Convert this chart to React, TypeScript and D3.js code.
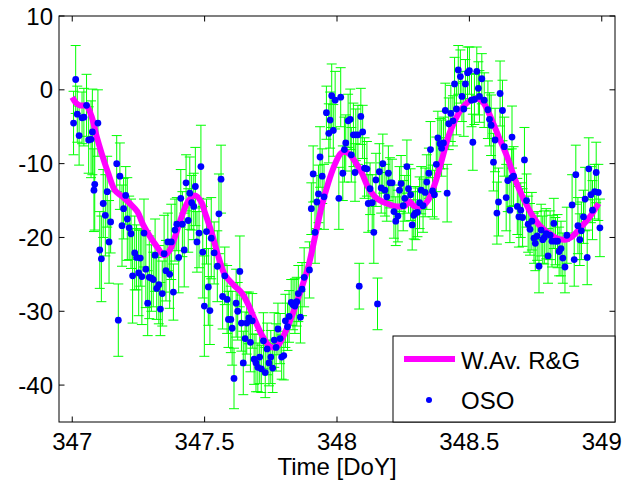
import React from "react";
import * as d3 from "d3";

// OSO observations: [time (DoY), value, error]
const osoPoints: [number, number, number][] = [
  [347.005, -4.5, 4.3], [347.013, 1.4, 4.6], [347.019, -3.3, 3.8], [347.026, -6.2, 4.0],
  [347.037, -3.8, 3.5], [347.044, -3.7, 3.9], [347.054, -2.1, 4.2], [347.062, -6.8, 4.5],
  [347.071, -6.7, 5.2], [347.076, -5.7, 5.8], [347.082, -13.6, 5.6], [347.085, -12.8, 6.2],
  [347.097, -4.5, 4.5], [347.104, -21.7, 5.2], [347.110, -22.9, 5.8], [347.117, -15.4, 4.6],
  [347.125, -17.0, 5.5], [347.132, -13.8, 4.8], [347.139, -20.6, 5.6], [347.145, -17.9, 4.2],
  [347.168, -10.0, 3.8], [347.174, -31.2, 4.9], [347.180, -11.7, 4.5], [347.188, -18.4, 5.5],
  [347.194, -16.1, 4.1], [347.202, -14.3, 3.9], [347.208, -17.5, 5.6], [347.215, -18.7, 4.3],
  [347.222, -19.5, 4.7], [347.228, -25.2, 6.4], [347.236, -22.1, 5.0], [347.243, -22.7, 4.4],
  [347.251, -24.8, 5.8], [347.257, -22.8, 3.8], [347.263, -25.3, 6.5], [347.271, -19.4, 4.6],
  [347.278, -24.3, 5.2], [347.285, -28.9, 4.4], [347.291, -25.4, 5.6], [347.299, -25.5, 4.5],
  [347.306, -25.7, 3.7], [347.313, -22.4, 4.9], [347.319, -26.9, 4.2], [347.327, -26.4, 5.3],
  [347.333, -29.7, 3.6], [347.340, -27.6, 4.4], [347.347, -22.2, 5.2], [347.354, -24.5, 4.1],
  [347.361, -20.6, 3.9], [347.368, -25.0, 4.6], [347.374, -20.6, 5.1], [347.382, -27.4, 3.8],
  [347.388, -19.0, 4.2], [347.395, -18.2, 3.6], [347.402, -22.7, 4.8], [347.410, -14.7, 3.9],
  [347.416, -18.2, 4.4], [347.423, -21.7, 5.0], [347.430, -12.6, 3.8], [347.438, -17.7, 4.3],
  [347.444, -14.0, 4.9], [347.451, -15.3, 3.7], [347.459, -15.8, 4.5], [347.465, -13.1, 5.3],
  [347.471, -20.6, 4.1], [347.479, -19.4, 4.7], [347.486, -10.4, 5.6], [347.493, -22.0, 6.2],
  [347.499, -29.3, 6.8], [347.507, -19.2, 4.4], [347.514, -26.7, 5.2], [347.520, -29.9, 4.6],
  [347.525, -20.1, 5.5], [347.536, -22.1, 4.2], [347.548, -23.9, 4.8], [347.554, -16.8, 5.4],
  [347.562, -12.1, 4.6], [347.568, -28.0, 4.4], [347.576, -25.2, 3.9], [347.585, -28.4, 4.6],
  [347.590, -31.1, 3.8], [347.599, -31.1, 4.5], [347.604, -32.3, 5.0], [347.611, -39.1, 4.1],
  [347.619, -28.9, 4.6], [347.625, -30.0, 3.9], [347.633, -24.6, 4.8], [347.639, -31.6, 3.8],
  [347.646, -37.0, 4.3], [347.653, -33.7, 3.6], [347.659, -31.6, 4.2], [347.667, -30.9, 3.5],
  [347.673, -34.2, 4.0], [347.680, -31.3, 3.7], [347.687, -36.5, 3.4], [347.694, -37.0, 3.9],
  [347.701, -37.6, 3.3], [347.708, -36.2, 3.6], [347.714, -37.8, 3.2], [347.722, -34.0, 3.8],
  [347.729, -38.3, 3.4], [347.736, -35.1, 3.5], [347.743, -37.0, 3.1], [347.750, -36.2, 3.6],
  [347.757, -37.7, 3.3], [347.763, -33.9, 3.7], [347.770, -34.9, 3.2], [347.777, -32.4, 3.5],
  [347.785, -33.7, 3.4], [347.791, -36.2, 3.0], [347.799, -36.0, 3.3], [347.805, -31.3, 3.6],
  [347.813, -32.1, 3.2], [347.819, -30.7, 3.5], [347.827, -28.8, 3.1], [347.834, -29.1, 3.4],
  [347.841, -29.3, 3.7], [347.848, -28.7, 3.3], [347.854, -27.6, 3.8], [347.862, -30.8, 3.5],
  [347.868, -27.0, 3.6], [347.876, -25.4, 4.0], [347.896, -24.4, 3.8], [347.903, -16.1, 3.5],
  [347.910, -11.4, 3.8], [347.917, -19.3, 4.2], [347.924, -15.2, 3.6], [347.930, -14.1, 3.9],
  [347.936, -9.1, 4.1], [347.944, -11.7, 3.7], [347.951, -14.5, 4.4], [347.960, -3.1, 3.6],
  [347.969, -5.9, 4.0], [347.974, -4.1, 3.8], [347.980, -0.8, 4.3], [347.986, -5.5, 3.5],
  [347.993, -1.4, 3.9], [348.007, -14.7, 4.2], [348.014, -1.0, 4.0], [348.022, -11.3, 3.7],
  [348.028, -8.1, 4.4], [348.033, -7.2, 3.8], [348.042, -4.2, 3.6], [348.050, -4.0, 4.1],
  [348.054, -8.8, 3.7], [348.062, -6.1, 4.3], [348.068, -11.2, 3.9], [348.071, -6.1, 3.5],
  [348.079, -6.1, 4.0], [348.084, -26.6, 3.1], [348.090, -3.6, 3.8], [348.097, -5.7, 3.6],
  [348.104, -10.6, 4.1], [348.113, -10.7, 3.7], [348.118, -15.4, 3.9], [348.125, -13.4, 3.5],
  [348.133, -15.3, 3.8], [348.139, -19.3, 4.2], [348.147, -12.2, 3.6], [348.153, -29.0, 3.5],
  [348.160, -11.1, 3.8], [348.167, -13.3, 3.4], [348.173, -10.0, 4.0], [348.181, -13.6, 3.5],
  [348.188, -14.5, 3.3], [348.194, -11.3, 3.7], [348.200, -12.6, 3.4], [348.208, -12.6, 3.2],
  [348.215, -16.5, 3.6], [348.222, -17.8, 3.3], [348.230, -17.1, 3.5], [348.236, -13.6, 3.2],
  [348.242, -12.7, 3.8], [348.250, -15.7, 3.4], [348.256, -14.7, 3.1], [348.264, -10.4, 3.6],
  [348.270, -13.4, 3.3], [348.278, -14.2, 3.5], [348.284, -18.3, 3.4], [348.290, -17.0, 3.2],
  [348.296, -16.7, 3.6], [348.304, -16.6, 3.3], [348.312, -15.3, 3.5], [348.318, -13.6, 3.2],
  [348.325, -15.7, 3.6], [348.333, -13.9, 3.3], [348.339, -12.5, 3.7], [348.347, -11.3, 3.4],
  [348.353, -8.1, 3.8], [348.361, -13.7, 3.5], [348.368, -14.2, 3.3], [348.375, -10.1, 3.7],
  [348.381, -6.5, 3.6], [348.389, -7.3, 3.4], [348.395, -7.9, 3.8], [348.402, -7.2, 3.5],
  [348.409, -2.8, 3.7], [348.416, -14.0, 3.9], [348.422, -4.6, 3.5], [348.430, -3.2, 3.8],
  [348.438, -4.2, 3.4], [348.444, 0.8, 3.6], [348.451, -2.6, 3.5], [348.458, 2.7, 3.3],
  [348.466, 1.8, 3.6], [348.472, -0.9, 3.4], [348.479, -2.6, 3.7], [348.485, 0.8, 3.3],
  [348.493, 2.3, 3.5], [348.500, 2.6, 3.2], [348.508, -1.4, 3.6], [348.513, -7.1, 3.8],
  [348.519, -1.3, 3.4], [348.528, 2.5, 3.3], [348.534, 0.2, 3.6], [348.538, -0.9, 3.5],
  [348.547, 1.5, 3.4], [348.556, -1.4, 3.7], [348.570, -2.7, 3.9], [348.576, -4.0, 3.6],
  [348.582, -4.8, 4.1], [348.591, -9.8, 3.9], [348.597, -6.8, 4.3], [348.604, -16.7, 4.2],
  [348.610, -15.2, 4.6], [348.616, -0.5, 4.4], [348.625, -2.8, 4.1], [348.632, -7.7, 4.0],
  [348.639, -14.6, 4.5], [348.645, -12.3, 4.2], [348.653, -16.3, 4.4], [348.660, -11.9, 3.9],
  [348.661, -6.4, 4.2], [348.667, -11.7, 4.0], [348.681, -15.8, 3.8], [348.687, -17.2, 4.1],
  [348.694, -16.3, 3.7], [348.701, -17.3, 3.9], [348.708, -9.5, 4.4], [348.716, -15.0, 3.6],
  [348.722, -18.2, 3.8], [348.729, -18.9, 3.5], [348.736, -17.8, 3.9], [348.744, -20.1, 3.4],
  [348.749, -20.8, 3.7], [348.756, -19.8, 3.3], [348.763, -23.9, 3.6], [348.771, -19.0, 3.5],
  [348.777, -20.3, 3.2], [348.783, -20.0, 3.6], [348.790, -19.5, 3.4], [348.797, -22.5, 3.7],
  [348.805, -19.7, 3.3], [348.812, -20.5, 3.5], [348.819, -18.1, 3.4], [348.825, -20.5, 3.2],
  [348.833, -20.5, 3.6], [348.839, -21.9, 3.3], [348.846, -21.5, 3.7], [348.853, -22.8, 3.4],
  [348.861, -24.0, 3.5], [348.868, -19.7, 3.8], [348.888, -15.6, 4.1], [348.896, -23.0, 3.6],
  [348.902, -11.5, 4.0], [348.910, -18.4, 3.8], [348.917, -20.3, 3.5], [348.923, -19.1, 3.9],
  [348.931, -17.2, 3.6], [348.937, -14.8, 4.3], [348.945, -22.7, 3.7], [348.951, -10.7, 4.2],
  [348.959, -14.2, 3.8], [348.965, -16.3, 4.0], [348.973, -13.8, 3.7], [348.979, -11.2, 4.1],
  [348.987, -13.9, 3.8], [348.993, -18.7, 3.9],
];

// Weighted average R&G curve: [time, value]
const avgCurve: [number, number][] = [
  [347.0, -1.0], [347.015, -1.8], [347.029, -2.1], [347.054, -2.2], [347.073, -3.6],
  [347.092, -6.3], [347.111, -8.6], [347.136, -11.3], [347.161, -13.6], [347.187, -14.4],
  [347.218, -15.4], [347.246, -16.5], [347.268, -18.3], [347.294, -19.9], [347.319, -21.2],
  [347.347, -22.4], [347.369, -21.7], [347.388, -19.9], [347.413, -17.2], [347.438, -15.1],
  [347.464, -14.3], [347.489, -15.3], [347.500, -16.5], [347.527, -19.4], [347.552, -22.6],
  [347.577, -25.1], [347.608, -26.4], [347.640, -27.5], [347.665, -29.1], [347.690, -31.2],
  [347.716, -33.2], [347.747, -34.8], [347.772, -34.8], [347.797, -33.4], [347.829, -30.7],
  [347.860, -27.5], [347.892, -23.9], [347.917, -19.9], [347.942, -15.8], [347.967, -12.6],
  [347.993, -10.0], [348.012, -8.7], [348.024, -8.4], [348.043, -8.6], [348.068, -9.7],
  [348.094, -11.3], [348.119, -13.3], [348.150, -14.7], [348.188, -15.4], [348.226, -15.8],
  [348.257, -15.7], [348.273, -15.1], [348.289, -15.7], [348.320, -15.8], [348.345, -14.9],
  [348.371, -12.6], [348.396, -9.5], [348.421, -6.3], [348.446, -4.1], [348.472, -2.5],
  [348.497, -1.6], [348.522, -1.2], [348.540, -1.3], [348.554, -1.8], [348.579, -3.6],
  [348.610, -6.3], [348.642, -9.0], [348.673, -12.2], [348.704, -14.7], [348.736, -16.9],
  [348.768, -18.5], [348.799, -19.4], [348.830, -20.1], [348.862, -20.3], [348.887, -19.9],
  [348.919, -18.7], [348.951, -17.4], [348.988, -15.4],
];

const xTicks = [347, 347.5, 348, 348.5, 349];
const yTicks = [10, 0, -10, -20, -30, -40];
const legendLabels = ["W.Av. R&G", "OSO"];

const W = 638;
const H = 483;
const plot = { left: 59, right: 615, top: 16, bottom: 422 };
const font = "'Liberation Sans', Arial, Helvetica, sans-serif";

export default function App() {
  const x = d3.scaleLinear().domain([346.95, 349.05]).range([plot.left, plot.right]);
  const y = d3.scaleLinear().domain([-45, 10]).range([plot.bottom, plot.top]);

  const line = d3
    .line<[number, number]>()
    .x((d) => x(d[0]))
    .y((d) => y(d[1]))
    .curve(d3.curveCatmullRom);

  const tickLen = 5.5;
  const cap = 5;

  return (
    <svg
      width={W}
      height={H}
      style={{ position: "absolute", left: 0, top: 0, background: "#fff" }}
      fontFamily={font}
    >
      <rect x={0} y={0} width={W} height={H} fill="#fff" />

      {/* error bars */}
      <g stroke="#00ff00" strokeWidth={1}>
        {osoPoints.map(([t, v, e], i) => {
          const cx = x(t);
          const y1 = y(v + e);
          const y2 = y(v - e);
          return (
            <g key={i}>
              <line x1={cx} x2={cx} y1={y1} y2={y2} />
              <line x1={cx - cap} x2={cx + cap} y1={y1} y2={y1} />
              <line x1={cx - cap} x2={cx + cap} y1={y2} y2={y2} />
            </g>
          );
        })}
      </g>

      {/* weighted average */}
      <path
        d={line(avgCurve) || ""}
        fill="none"
        stroke="#ff00ff"
        strokeWidth={6}
        strokeLinejoin="round"
      />

      {/* OSO points */}
      <g fill="#0000ff">
        {osoPoints.map(([t, v], i) => (
          <circle key={i} cx={x(t)} cy={y(v)} r={3.4} />
        ))}
      </g>

      {/* axes box */}
      <rect
        x={plot.left}
        y={plot.top}
        width={plot.right - plot.left}
        height={plot.bottom - plot.top}
        fill="none"
        stroke="#000"
        strokeWidth={1}
      />

      {/* ticks */}
      <g stroke="#000" strokeWidth={1}>
        {xTicks.map((t) => (
          <g key={t}>
            <line x1={x(t)} x2={x(t)} y1={plot.bottom} y2={plot.bottom - tickLen} />
            <line x1={x(t)} x2={x(t)} y1={plot.top} y2={plot.top + tickLen} />
          </g>
        ))}
        {yTicks.map((v) => (
          <g key={v}>
            <line x1={plot.left} x2={plot.left + tickLen} y1={y(v)} y2={y(v)} />
            <line x1={plot.right} x2={plot.right - tickLen} y1={y(v)} y2={y(v)} />
          </g>
        ))}
      </g>

      <g fontSize={24} fill="#000">
        {xTicks.map((t) => (
          <text key={t} x={x(t)} y={450} textAnchor="middle">
            {d3.format("")(t)}
          </text>
        ))}
        {yTicks.map((v) => (
          <text key={v} x={plot.left - 6} y={y(v)} dy="0.36em" textAnchor="end">
            {v}
          </text>
        ))}
        <text x={(plot.left + plot.right) / 2} y={475} textAnchor="middle">
          Time [DoY]
        </text>
      </g>

      {/* legend */}
      <g>
        <rect x={393} y={336} width={222} height={86} fill="#fff" stroke="#000" strokeWidth={1} />
        <line x1={404} x2={455} y1={359} y2={359} stroke="#ff00ff" strokeWidth={6} />
        <circle cx={429} cy={400} r={3} fill="#0000ff" />
        <text x={461} y={369} fontSize={24}>{legendLabels[0]}</text>
        <text x={461} y={409} fontSize={24}>{legendLabels[1]}</text>
      </g>
    </svg>
  );
}
